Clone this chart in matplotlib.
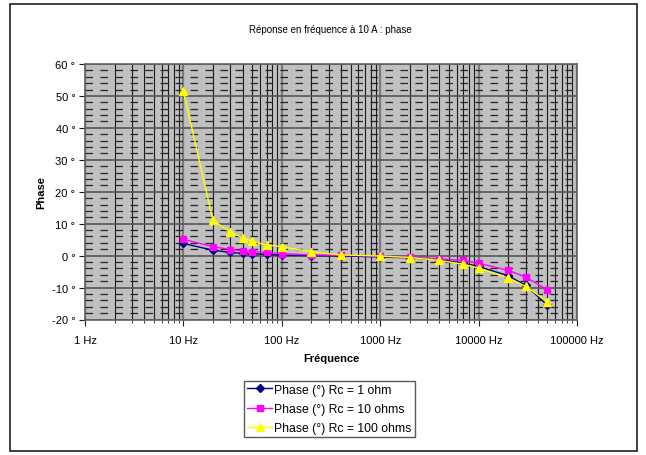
import matplotlib

matplotlib.use("Agg")
import matplotlib.pyplot as plt
from matplotlib.patches import Rectangle
from matplotlib.ticker import FixedLocator, FuncFormatter, LogLocator, MultipleLocator

plt.rcParams["font.family"] = ["Liberation Sans", "DejaVu Sans"]

freq = [10, 20, 30, 40, 50, 70, 100, 200, 400, 1000, 2000, 4000, 7000, 10000, 20000, 30000, 50000]
phase_1 = [3.8, 1.7, 1.0, 0.7, 0.6, 0.4, 0.1, 0.0, -0.1, -0.4, -0.7, -1.3, -2.3, -3.4, -6.3, -9.3, -15.5]
phase_10 = [5.1, 2.8, 1.9, 1.5, 1.2, 1.0, 0.6, 0.2, 0.1, -0.2, -0.5, -1.0, -1.5, -2.4, -4.6, -6.7, -10.7]
phase_100 = [51.5, 11.0, 7.4, 5.6, 4.5, 3.3, 2.8, 1.2, 0.2, -0.1, -0.6, -1.5, -2.7, -3.9, -7.0, -9.6, -14.4]
labels = ["Phase (°) Rc = 1 ohm", "Phase (°) Rc = 10 ohms", "Phase (°) Rc = 100 ohms"]

fig = plt.figure(figsize=(6.46, 4.56), dpi=100)
ax = fig.add_axes([85 / 646, 1 - 320.5 / 456, (577 - 85) / 646, (320.5 - 65) / 456])
ax.set_facecolor("#C0C0C0")

# outer chart border
fig.patches.append(Rectangle((10 / 646, 4 / 456), 627 / 646, 447 / 456, transform=fig.transFigure,
                             fill=False, edgecolor="#202020", linewidth=1.2))

ax.plot(freq, phase_1, color="#000080", marker="D", markersize=4, linewidth=1, label=labels[0], zorder=3)
ax.plot(freq, phase_10, color="#FF00FF", marker="s", markersize=5, linewidth=1, label=labels[1], zorder=3)
ax.plot(freq, phase_100, color="#FFFF00", marker="^", markersize=6, linewidth=1, label=labels[2], zorder=3)

ax.set_xscale("log")
ax.set_xlim(1, 1e5)
ax.set_ylim(-20, 60)
ax.xaxis.set_major_locator(FixedLocator([1, 10, 100, 1000, 10000, 100000]))
ax.xaxis.set_minor_locator(LogLocator(base=10, subs=range(2, 10), numticks=20))
ax.xaxis.set_major_formatter(FuncFormatter(lambda v, p: f"{v:.0f} Hz"))
ax.xaxis.set_minor_formatter(FuncFormatter(lambda v, p: ""))
ax.yaxis.set_major_locator(MultipleLocator(10))
ax.yaxis.set_minor_locator(MultipleLocator(2))
ax.yaxis.set_major_formatter(FuncFormatter(lambda v, p: f"{v:.0f} °"))

ax.grid(which="major", axis="x", color="#7a7a7a", linewidth=1.6, zorder=1)
ax.grid(which="minor", axis="x", color="#1a1a1a", linewidth=0.8, zorder=1)
ax.grid(which="major", axis="y", color="#555555", linewidth=1.2, zorder=1)
ax.grid(which="minor", axis="y", color="#222222", linewidth=0.9, linestyle=(0, (6, 6)), zorder=1)
ax.set_axisbelow(True)

for s in ax.spines.values():
    s.set_color("#606060")
    s.set_linewidth(1.2)
ax.tick_params(which="major", length=4, width=0.8, labelsize=8, color="#202020", pad=3)
ax.tick_params(axis="x", which="minor", length=2, width=0.6, color="#202020")
ax.tick_params(axis="y", which="minor", length=0)
ax.tick_params(axis="x", pad=7)

ax.set_xlabel("Fréquence", fontsize=8, fontweight="bold", labelpad=6)
ax.set_ylabel("Phase", fontsize=8, fontweight="bold", labelpad=4)
fig.text(330 / 646, 1 - 30 / 456, "Réponse en fréquence à 10 A : phase", fontsize=7, ha="center", va="center")

leg = fig.legend(loc="center", bbox_to_anchor=(0.510, 1 - 410 / 456), fontsize=8.8, frameon=True,
                 fancybox=False, edgecolor="#303030", handlelength=2.0, handletextpad=0.2,
                 borderpad=0.25, labelspacing=0.6, borderaxespad=0)
leg.get_frame().set_linewidth(1)

fig.savefig("out.png", dpi=100)
